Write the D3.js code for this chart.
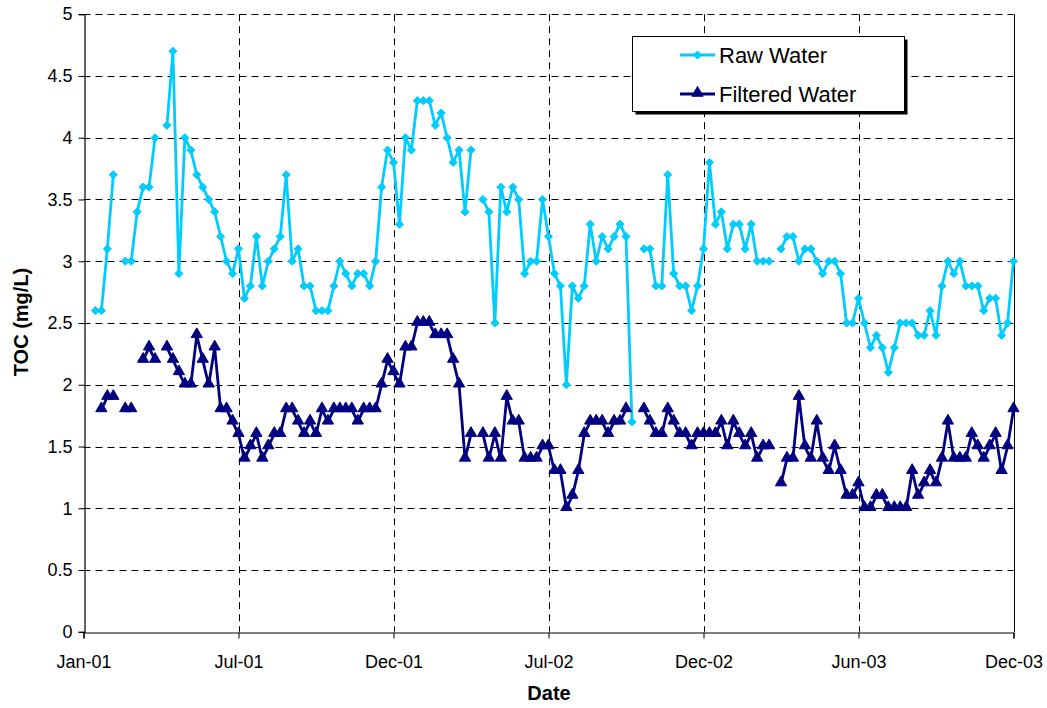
<!DOCTYPE html>
<html>
<head>
<meta charset="utf-8">
<script src="https://cdn.jsdelivr.net/npm/d3@7"></script>
<style>
  body { margin: 0; background: #fff; }
  svg { display: block; font-family: "Liberation Sans", Arial, sans-serif; }
</style>
</head>
<body>
<svg id="chart" width="1047" height="708"></svg>
<script>
// Weekly samples, week 0 = Jan-01 (2001); null = no sample
const rawWater = [
  null, null, 2.6, 2.6, 3.1, 3.7, null, 3.0, 3.0, 3.4,
  3.6, 3.6, 4.0, null, 4.1, 4.7, 2.9, 4.0, 3.9, 3.7,
  3.6, 3.5, 3.4, 3.2, 3.0, 2.9, 3.1, 2.7, 2.8, 3.2,
  2.8, 3.0, 3.1, 3.2, 3.7, 3.0, 3.1, 2.8, 2.8, 2.6,
  2.6, 2.6, 2.8, 3.0, 2.9, 2.8, 2.9, 2.9, 2.8, 3.0,
  3.6, 3.9, 3.8, 3.3, 4.0, 3.9, 4.3, 4.3, 4.3, 4.1,
  4.2, 4.0, 3.8, 3.9, 3.4, 3.9, null, 3.5, 3.4, 2.5,
  3.6, 3.4, 3.6, 3.5, 2.9, 3.0, 3.0, 3.5, 3.2, 2.9,
  2.8, 2.0, 2.8, 2.7, 2.8, 3.3, 3.0, 3.2, 3.1, 3.2,
  3.3, 3.2, 1.7, null, 3.1, 3.1, 2.8, 2.8, 3.7, 2.9,
  2.8, 2.8, 2.6, 2.8, 3.1, 3.8, 3.3, 3.4, 3.1, 3.3,
  3.3, 3.1, 3.3, 3.0, 3.0, 3.0, null, 3.1, 3.2, 3.2,
  3.0, 3.1, 3.1, 3.0, 2.9, 3.0, 3.0, 2.9, 2.5, 2.5,
  2.7, 2.5, 2.3, 2.4, 2.3, 2.1, 2.3, 2.5, 2.5, 2.5,
  2.4, 2.4, 2.6, 2.4, 2.8, 3.0, 2.9, 3.0, 2.8, 2.8,
  2.8, 2.6, 2.7, 2.7, 2.4, 2.5, 3.0
];
const filteredWater = [
  null, null, null, 1.8, 1.9, 1.9, null, 1.8, 1.8, null,
  2.2, 2.3, 2.2, null, 2.3, 2.2, 2.1, 2.0, 2.0, 2.4,
  2.2, 2.0, 2.3, 1.8, 1.8, 1.7, 1.6, 1.4, 1.5, 1.6,
  1.4, 1.5, 1.6, 1.6, 1.8, 1.8, 1.7, 1.6, 1.7, 1.6,
  1.8, 1.7, 1.8, 1.8, 1.8, 1.8, 1.7, 1.8, 1.8, 1.8,
  2.0, 2.2, 2.1, 2.0, 2.3, 2.3, 2.5, 2.5, 2.5, 2.4,
  2.4, 2.4, 2.2, 2.0, 1.4, 1.6, null, 1.6, 1.4, 1.6,
  1.4, 1.9, 1.7, 1.7, 1.4, 1.4, 1.4, 1.5, 1.5, 1.3,
  1.3, 1.0, 1.1, 1.3, 1.6, 1.7, 1.7, 1.7, 1.6, 1.7,
  1.7, 1.8, null, null, 1.8, 1.7, 1.6, 1.6, 1.8, 1.7,
  1.6, 1.6, 1.5, 1.6, 1.6, 1.6, 1.6, 1.7, 1.5, 1.7,
  1.6, 1.5, 1.6, 1.4, 1.5, 1.5, null, 1.2, 1.4, 1.4,
  1.9, 1.5, 1.4, 1.7, 1.4, 1.3, 1.5, 1.3, 1.1, 1.1,
  1.2, 1.0, 1.0, 1.1, 1.1, 1.0, 1.0, 1.0, 1.0, 1.3,
  1.1, 1.2, 1.3, 1.2, 1.4, 1.7, 1.4, 1.4, 1.4, 1.6,
  1.5, 1.4, 1.5, 1.6, 1.3, 1.5, 1.8
];
const xTickWeeks = [0, 26, 52, 78, 104, 130, 156];
const xTickLabels = ["Jan-01", "Jul-01", "Dec-01", "Jul-02", "Dec-02", "Jun-03", "Dec-03"];
const yTicks = [0, 0.5, 1, 1.5, 2, 2.5, 3, 3.5, 4, 4.5, 5];
const seriesNames = ["Raw Water", "Filtered Water"];

const svg = d3.select("#chart");
const pL = 83.5, pR = 1013.5, pT = 14.2, pB = 631.8;
const FONT = "Liberation Sans, Arial, sans-serif";

const x = d3.scaleLinear().domain([0, 156]).range([pL, pR]);
const y = d3.scaleLinear().domain([0, 5]).range([pB, pT]);

// gridlines
const grid = svg.append("g");
grid.selectAll("line.h").data(yTicks.filter(v => v > 0)).join("line")
  .attr("x1", pL).attr("x2", pR)
  .attr("y1", d => Math.round(y(d)) + 0.5).attr("y2", d => Math.round(y(d)) + 0.5)
  .attr("stroke", "#000").attr("stroke-width", 1).attr("stroke-dasharray", "7,5");
grid.selectAll("line.v").data(xTickWeeks.filter((w, i) => i > 0 && i < xTickWeeks.length - 1)).join("line")
  .attr("x1", d => Math.round(x(d)) + 0.5).attr("x2", d => Math.round(x(d)) + 0.5)
  .attr("y1", pT).attr("y2", pB)
  .attr("stroke", "#000").attr("stroke-width", 1).attr("stroke-dasharray", "7,5");
// right border
svg.append("line").attr("x1", Math.round(pR) + 0.5).attr("x2", Math.round(pR) + 0.5)
  .attr("y1", pT).attr("y2", pB).attr("stroke", "#000").attr("stroke-width", 1);

// axes
const yAxis = d3.axisLeft(y).tickValues(yTicks).tickSize(6).tickPadding(6)
  .tickFormat(d => String(d));
const gy = svg.append("g").attr("transform", `translate(${Math.round(pL) + 0.5},0)`).call(yAxis);
gy.select(".domain").attr("stroke", "#000").attr("stroke-width", 1.2);
gy.selectAll("text").attr("font-size", 18).attr("font-family", FONT).attr("fill", "#000");

const xAxis = d3.axisBottom(x).tickValues(xTickWeeks).tickSize(6).tickPadding(17)
  .tickFormat((d, i) => xTickLabels[i]);
const gx = svg.append("g").attr("transform", `translate(0,${Math.round(pB) + 0.5})`).call(xAxis);
gx.select(".domain").attr("stroke", "#000").attr("stroke-width", 1.2);
gx.selectAll("text").attr("font-size", 18).attr("font-family", FONT).attr("fill", "#000");

// axis titles
svg.append("text").attr("x", 549).attr("y", 700).attr("text-anchor", "middle")
  .attr("font-size", 20).attr("font-weight", "bold").attr("font-family", FONT).text("Date");
svg.append("text").attr("transform", "translate(28,322) rotate(-90)").attr("text-anchor", "middle")
  .attr("font-size", 20).attr("font-weight", "bold").attr("font-family", FONT).text("TOC (mg/L)");

// series
const rawColor = "#00CCFF", filtColor = "#000080";
const line = d3.line().defined(d => d[1] != null).x(d => x(d[0])).y(d => y(d[1]));
const rawPts = rawWater.map((v, i) => [i, v]);
const filtPts = filteredWater.map((v, i) => [i, v]);

svg.append("path").datum(rawPts).attr("d", line).attr("fill", "none")
  .attr("stroke", rawColor).attr("stroke-width", 2.8).attr("stroke-linejoin", "round");
svg.append("path").datum(filtPts).attr("d", line).attr("fill", "none")
  .attr("stroke", filtColor).attr("stroke-width", 2.8).attr("stroke-linejoin", "round");

const diamond = d3.symbol().type(d3.symbolDiamond2).size(42);
const tri = d3.symbol().type(d3.symbolTriangle).size(55);

svg.append("g").selectAll("path").data(rawPts.filter(d => d[1] != null)).join("path")
  .attr("d", diamond).attr("transform", d => `translate(${x(d[0])},${y(d[1])})`)
  .attr("fill", rawColor).attr("stroke", rawColor).attr("stroke-width", 1);
svg.append("g").selectAll("path").data(filtPts.filter(d => d[1] != null)).join("path")
  .attr("d", tri).attr("transform", d => `translate(${x(d[0])},${y(d[1]) - 1})`)
  .attr("fill", filtColor).attr("stroke", filtColor).attr("stroke-width", 1);

// legend
const lg = svg.append("g");
lg.append("rect").attr("x", 635.5).attr("y", 39.5).attr("width", 272).attr("height", 75).attr("fill", "#000");
lg.append("rect").attr("x", 632.5).attr("y", 36.5).attr("width", 272).attr("height", 75)
  .attr("fill", "#fff").attr("stroke", "#000").attr("stroke-width", 1);
const items = [
  { name: seriesNames[0], color: rawColor, sym: diamond, yy: 55 },
  { name: seriesNames[1], color: filtColor, sym: tri, yy: 94 }
];
items.forEach(it => {
  lg.append("line").attr("x1", 680).attr("x2", 715).attr("y1", it.yy).attr("y2", it.yy)
    .attr("stroke", it.color).attr("stroke-width", 2.8);
  lg.append("path").attr("d", it.sym).attr("transform", `translate(697.5,${it.yy - (it.sym === tri ? 1 : 0)})`)
    .attr("fill", it.color).attr("stroke", it.color);
  lg.append("text").attr("x", 719).attr("y", it.yy + 8).attr("font-size", 22).attr("font-family", FONT)
    .attr("fill", "#000").text(it.name);
});
</script>
</body>
</html>
